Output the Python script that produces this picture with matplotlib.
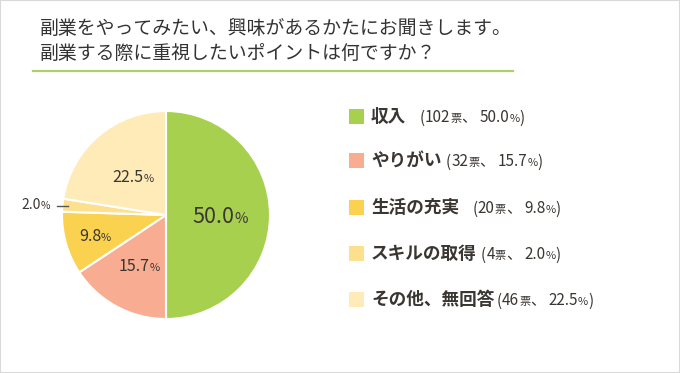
import matplotlib
matplotlib.use('Agg')
import matplotlib.pyplot as plt
import numpy as np
from matplotlib.patches import Rectangle
from matplotlib.lines import Line2D
from matplotlib.transforms import IdentityTransform

# ---- data ----
title_lines = ['副業をやってみたい、興味があるかたにお聞きします。',
               '副業する際に重視したいポイントは何ですか？']
categories = ['収入', 'やりがい', '生活の充実', 'スキルの取得', 'その他、無回答']
votes = [102, 32, 20, 4, 46]
percents = [50.0, 15.7, 9.8, 2.0, 22.5]

# ---- style ----
colors = ['#a8d04f', '#f8ad92', '#fbd150', '#fde08e', '#feebb8']
label_r = [0.52, 0.55, 0.71, 1.12, 0.49]
label_big = [True, False, False, False, False]
outside = [False, False, False, True, False]
name_gap = [13, 4, 13, 4, 2]
TXT = '#3a3632'

W, H = 680, 373
plt.rcParams['font.family'] = ['Noto Sans CJK JP', 'DejaVu Sans']
fig = plt.figure(figsize=(W / 100, H / 100), dpi=100)
fig.patch.set_facecolor('white')
renderer = fig.canvas.get_renderer()
ID = IdentityTransform()


def pt2px(pt):
    return pt * 100 / 72


def seg_text(x, y, segments, ha='left'):
    """segments: (text, size, weight, color, extra_px); x,y pixel coords (y baseline)."""
    objs = []
    widths = []
    for s, size, weight, col, extra in segments:
        t = fig.text(0, y, s, fontsize=size, fontweight=weight, color=col,
                     ha='left', va='baseline', transform=ID)
        bb = t.get_window_extent(renderer)
        objs.append(t)
        widths.append(bb.width + extra)
    total = sum(widths)
    if ha == 'center':
        x0 = x - total / 2
    elif ha == 'right':
        x0 = x - total
    else:
        x0 = x
    for t, w in zip(objs, widths):
        t.set_x(x0)
        x0 += w
    return x0


# ---- border ----
fig.add_artist(Rectangle((0, 0), 1, 1, transform=fig.transFigure, fill=False,
                         edgecolor='#d9d9d9', linewidth=1.5))

# ---- title ----
for i, line in enumerate(title_lines):
    yc = H - (27 + i * 25)
    fig.text(40, yc - 0.36 * pt2px(13.6), line, fontsize=13.6, color='#333333',
             ha='left', va='baseline', transform=ID)
fig.add_artist(Line2D([33, 513], [H - 71, H - 71], transform=ID,
                      color='#a9d06a', linewidth=1.6))

# ---- pie ----
cx, cy, R = 166, 215, 104
ax = fig.add_axes([(cx - R) / W, (H - cy - R) / H, 2 * R / W, 2 * R / H])
wedges, _ = ax.pie(percents, colors=colors, startangle=90, counterclock=False,
                   radius=1.0, wedgeprops=dict(edgecolor='white', linewidth=1.5))
ax.set_xlim(-1, 1)
ax.set_ylim(-1, 1)
ax.set_aspect('equal')
ax.axis('off')

total = sum(percents)
cum = 0.0
for i, p in enumerate(percents):
    theta = np.deg2rad(90 - 360 * (cum + p / 2) / total)
    cum += p
    r = label_r[i]
    px, py = ax.transData.transform((r * np.cos(theta), r * np.sin(theta)))
    if label_big[i]:
        ns, ps = 15.5, 10.5
    elif outside[i]:
        ns, ps = 10, 7.5
    else:
        ns, ps = 11.5, 8
    base = py - 0.36 * pt2px(ns)
    segs = [(f'{p:.1f}', ns, 'normal', TXT, 0), ('%', ps, 'normal', TXT, 0)]
    if outside[i]:
        seg_text(px, base, segs, ha='right')
        a = ax.transData.transform((0.95 * np.cos(theta), 0.95 * np.sin(theta)))
        b = ax.transData.transform((1.05 * np.cos(theta), 1.05 * np.sin(theta)))
        fig.add_artist(Line2D([a[0], b[0]], [a[1], a[1]], transform=ID,
                              color='#555555', linewidth=1.0))
    else:
        seg_text(px, base, segs, ha='center')

# ---- legend ----
row_y = [116, 160, 207, 253, 299]
for i, cat in enumerate(categories):
    yc = H - row_y[i]
    fig.add_artist(Rectangle((349, yc - 7.5), 15, 15, transform=ID,
                             facecolor=colors[i], edgecolor='none'))
    base = yc - 0.36 * pt2px(12.7)
    xe = seg_text(371, base, [(cat, 12.7, 'bold', TXT, 0)])
    segs = [('(', 11, 'normal', TXT, 0.5), (f'{votes[i]}', 11, 'normal', TXT, 0),
            ('票', 8, 'normal', TXT, 0), ('、', 11, 'normal', TXT, 3),
            (f'{percents[i]:.1f}', 11, 'normal', TXT, 0), ('%', 8, 'normal', TXT, 0),
            (')', 11, 'normal', TXT, 0)]
    seg_text(xe + name_gap[i], base, segs)

fig.savefig('out.png', dpi=100, facecolor='white')
